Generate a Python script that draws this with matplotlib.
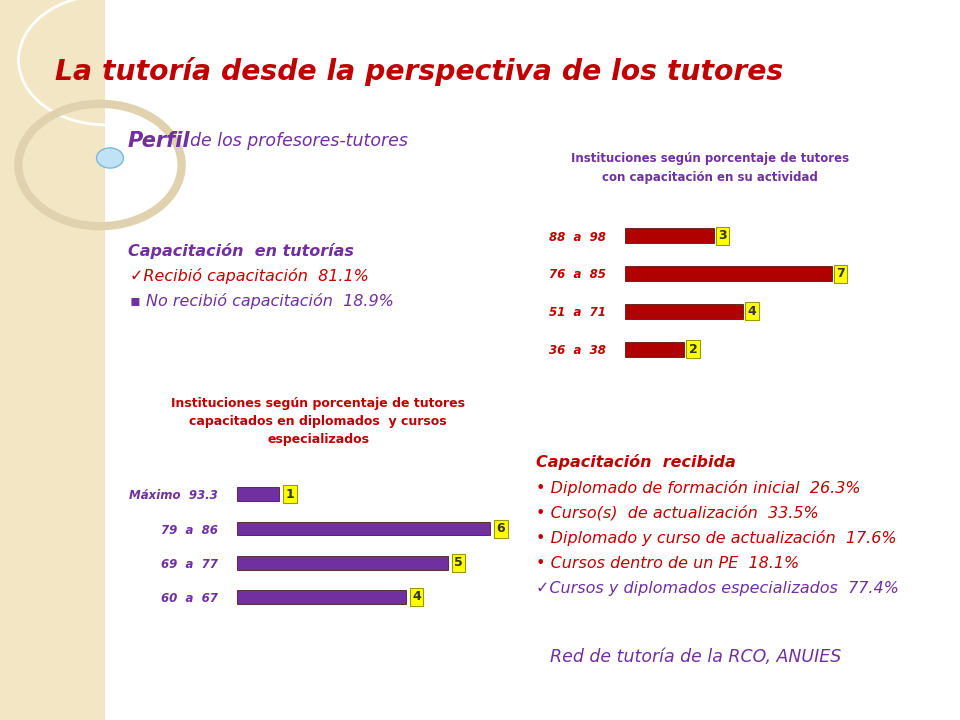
import matplotlib.pyplot as plt
from matplotlib.patches import Rectangle, Circle

# data
top_cats = ['36  a  38', '51  a  71', '76  a  85', '88  a  98']
top_vals = [2, 4, 7, 3]
bot_cats = ['60  a  67', '69  a  77', '79  a  86', 'Máximo  93.3']
bot_vals = [4, 5, 6, 1]

purple = '#7030a0'
red = '#c00000'

fig = plt.figure(figsize=(9.6, 7.2), dpi=100)
fig.patch.set_facecolor('white')

# left decorative strip
fig.patches.append(Rectangle((0, 0), 105/960, 1, transform=fig.transFigure,
                             facecolor='#f3e6c4', edgecolor='none', zorder=0))
fig.patches.append(Circle((105/960, 1 - 60/720), 0.09, transform=fig.transFigure,
                          facecolor='none', edgecolor='white', lw=2, zorder=1))
fig.patches.append(Circle((100/960, 1 - 165/720), 0.085, transform=fig.transFigure,
                          facecolor='none', edgecolor='#e0d2ae', lw=6, zorder=1))
fig.patches.append(Circle((110/960, 1 - 158/720), 0.014, transform=fig.transFigure,
                          facecolor='#bfe3f5', edgecolor='#7fb7d6', lw=1, zorder=2))

fig.text(55/960, 1 - 72/720, 'La tutoría desde la perspectiva de los tutores',
         color=red, fontsize=20.3, fontweight='bold', style='italic', va='center')
fig.text(128/960, 1 - 141/720, 'Perfil', color=purple, fontsize=15,
         fontweight='bold', style='italic', va='center')
fig.text(190/960, 1 - 141/720, 'de los profesores-tutores', color=purple,
         fontsize=12.5, style='italic', va='center')

fig.text(128/960, 1 - 251/720, 'Capacitación  en tutorías', color=purple,
         fontsize=11.5, fontweight='bold', style='italic', va='center')
fig.text(130/960, 1 - 276/720, '✓Recibió capacitación  81.1%', color=red,
         fontsize=11.5, style='italic', va='center')
fig.text(130/960, 1 - 301/720, '▪ No recibió capacitación  18.9%', color=purple,
         fontsize=11.5, style='italic', va='center')

fig.text(536/960, 1 - 462/720, 'Capacitación  recibida', color=red,
         fontsize=11.5, fontweight='bold', style='italic', va='center')
items = ['• Diplomado de formación inicial  26.3%',
         '• Curso(s)  de actualización  33.5%',
         '• Diplomado y curso de actualización  17.6%',
         '• Cursos dentro de un PE  18.1%',
         '✓Cursos y diplomados especializados  77.4%']
for i, t in enumerate(items):
    fig.text(536/960, 1 - (488 + 25 * i)/720, t, color=red if i < 4 else purple,
             fontsize=11.5, style='italic', va='center')

fig.text(550/960, 1 - 657/720, 'Red de tutoría de la RCO, ANUIES', color=purple,
         fontsize=12.5, style='italic', va='center')

fig.text(710/960, 1 - 168/720,
         'Instituciones según porcentaje de tutores\ncon capacitación en su actividad',
         color=purple, fontsize=8.5, fontweight='bold', ha='center', va='center',
         linespacing=1.6)
fig.text(318/960, 1 - 422/720,
         'Instituciones según porcentaje de tutores\ncapacitados en diplomados  y cursos\nespecializados',
         color=red, fontsize=9, fontweight='bold', ha='center', va='center',
         linespacing=1.5)


def bar_chart(rect, cats, vals, color, labcolor, xmax):
    ax = fig.add_axes(rect)
    ax.barh(range(len(vals)), vals, height=0.4, color=color, edgecolor='#400000', lw=0.5)
    for i, v in enumerate(vals):
        ax.text(v + 0.15, i, str(v), va='center', ha='left', fontsize=9,
                fontweight='bold', color='#333333',
                bbox=dict(boxstyle='square,pad=0.2', fc='#ffff00', ec='#999900', lw=0.8))
    ax.set_yticks(range(len(vals)))
    ax.set_yticklabels(cats, color=labcolor, fontsize=8.5, fontweight='bold', style='italic')
    ax.set_xlim(0, xmax)
    ax.set_ylim(-0.5, len(vals) - 0.5)
    ax.set_xticks([])
    ax.tick_params(axis='y', length=0, pad=14)
    for s in ax.spines.values():
        s.set_visible(False)
    ax.patch.set_alpha(0)
    return ax


bar_chart([625/960, 1 - 368/720, 0.24, 0.21], top_cats, top_vals, '#b00000', red, 7.8)
bar_chart([237/960, 1 - 614/720, 0.29, 0.19], bot_cats, bot_vals, '#7030a0', purple, 6.6)

fig.savefig('out.png', dpi=100)
